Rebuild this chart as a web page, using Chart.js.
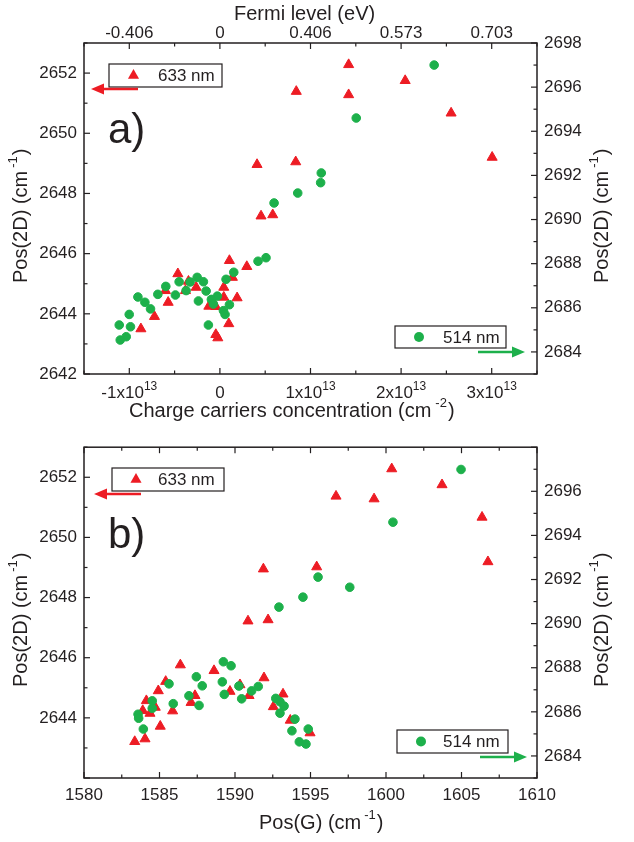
<!DOCTYPE html>
<html>
<head>
<meta charset="utf-8">
<script src="https://cdn.jsdelivr.net/npm/chart.js@4.4.1/dist/chart.umd.min.js"></script>
<style>
  body { margin: 0; background: #fff; }
  canvas { position: absolute; left: 0; }
  #chartA { top: 0; }
  #chartB { top: 430px; }
</style>
</head>
<body>
<canvas id="chartA" width="634" height="430"></canvas>
<canvas id="chartB" width="634" height="412"></canvas>
<script>
// panel a) - charge carriers concentration in units of 1x10^13 cm^-2
const carrier633 = [1.421, 2.045, 0.843, 1.421, 2.552, 3.005, 0.41, 0.837, 0.454, 0.583,
  0.105, 0.297, -0.464, -0.347, -0.262, 0.138, 0.043, -0.601, -0.38, -0.571,
  0.19, 0.043, -0.122, -0.045, -0.722, 0.098, -0.872, -0.045, -0.023];
const pos2D633a = [2652.28, 2651.75, 2651.39, 2651.28, 2650.67, 2649.2, 2648.96, 2649.05, 2647.25, 2647.29,
  2645.77, 2645.57, 2645.33, 2645.08, 2644.88, 2645.21, 2644.88, 2644.77, 2644.77, 2644.38,
  2644.53, 2644.55, 2644.25, 2644.24, 2643.91, 2643.67, 2643.5, 2643.31, 2643.2];
const carrier514 = [2.365, 1.505, 1.119, 1.112, 0.859, 0.598, 0.509, 0.421, 0.153, 0.068,
  -0.45, -0.597, -0.251, -0.182, -0.329, -0.373, -0.685, -0.491, -0.905, -0.828,
  -0.766, -0.152, -0.237, -0.028, -0.094, -0.072, 0.105, 0.039, 0.057, -1.001,
  -1.111, -0.987, -0.127, -1.034, -1.1];
const pos2D514a = [2697.0, 2694.6, 2692.11, 2691.67, 2691.2, 2690.75, 2688.27, 2688.11, 2687.61, 2687.29,
  2687.18, 2686.97, 2687.38, 2687.18, 2687.17, 2686.78, 2686.61, 2686.58, 2686.49, 2686.25,
  2685.95, 2686.76, 2686.31, 2686.53, 2686.38, 2686.17, 2686.14, 2685.87, 2685.7, 2685.7,
  2685.22, 2685.14, 2685.22, 2684.69, 2684.54];

// panel b) - Pos(G)
const posG633 = [1600.38, 1603.71, 1596.69, 1599.21, 1606.36, 1606.75, 1591.88, 1595.41, 1590.86, 1592.19,
  1586.38, 1588.61, 1591.92, 1585.41, 1590.33, 1593.18, 1584.92, 1589.67, 1587.35, 1590.93,
  1584.13, 1584.72, 1583.89, 1584.37, 1587.09, 1585.87, 1592.54, 1593.66, 1585.05, 1594.97,
  1584.04, 1583.36];
const pos2D633b = [2652.28, 2651.75, 2651.37, 2651.28, 2650.67, 2649.19, 2648.95, 2649.02, 2647.22, 2647.26,
  2645.76, 2645.57, 2645.33, 2645.21, 2645.1, 2644.79, 2644.9, 2644.88, 2644.74, 2644.74,
  2644.57, 2644.35, 2644.24, 2644.15, 2644.51, 2644.23, 2644.37, 2643.92, 2643.72, 2643.5,
  2643.3, 2643.21];
const posG514 = [1604.97, 1600.46, 1595.5, 1597.6, 1594.5, 1592.91, 1589.23, 1589.74, 1587.44, 1589.16,
  1585.63, 1587.83, 1590.26, 1591.54, 1591.1, 1589.29, 1586.95, 1590.44, 1584.52, 1592.7,
  1592.98, 1585.91, 1587.62, 1593.25, 1584.52, 1583.58, 1583.62, 1592.98, 1593.97, 1583.93,
  1593.77, 1594.85, 1594.26, 1594.7];
const pos2D514b = [2696.99, 2694.6, 2692.11, 2691.65, 2691.2, 2690.75, 2688.27, 2688.09, 2687.59, 2687.36,
  2687.27, 2687.18, 2687.17, 2687.15, 2686.95, 2686.79, 2686.73, 2686.59, 2686.5, 2686.61,
  2686.46, 2686.37, 2686.29, 2686.26, 2686.16, 2685.89, 2685.71, 2685.94, 2685.67, 2685.22,
  2685.14, 2685.22, 2684.64, 2684.54];

// tick labels
const carrierTicks = [-1, 0, 1, 2, 3];
const carrierMant = ['-1x10', '0', '1x10', '2x10', '3x10'];
const carrierExp = ['13', '', '13', '13', '13'];
const fermiLabels = ['-0.406', '0', '0.406', '0.573', '0.703'];
const posGTicks = [1580, 1585, 1590, 1595, 1600, 1605, 1610];
const leftTicksA = [2642, 2644, 2646, 2648, 2650, 2652];
const rightTicksA = [2684, 2686, 2688, 2690, 2692, 2694, 2696, 2698];
const leftTicksB = [2644, 2646, 2648, 2650, 2652];
const rightTicksB = [2684, 2686, 2688, 2690, 2692, 2694, 2696];

const RED = '#ed1c24';
const GREEN = '#1db04b';
const INK = '#231f20';
const FONT = '"Liberation Sans", Arial, sans-serif';

Chart.defaults.font.family = FONT;
Chart.defaults.color = INK;

const pts = (xs, ys) => xs.map((x, i) => ({ x: x, y: ys[i] }));

// inward major/minor ticks + frame box
const frame = {
  id: 'frame',
  afterDraw(chart) {
    const { ctx, chartArea: a } = chart;
    const spec = chart.config.options.tickSpec;
    ctx.save();
    ctx.strokeStyle = INK;
    ctx.lineWidth = 1.2;
    const line = (x1, y1, x2, y2) => { ctx.beginPath(); ctx.moveTo(x1, y1); ctx.lineTo(x2, y2); ctx.stroke(); };
    const walk = (scale, major, minor, fn) => {
      for (let v = Math.ceil(scale.min / minor - 1e-9) * minor; v <= scale.max + 1e-9; v += minor) {
        const isMajor = Math.abs(v / major - Math.round(v / major)) < 1e-6;
        fn(scale.getPixelForValue(v), isMajor ? 6 : 3.5);
      }
    };
    walk(chart.scales.x, spec.x[0], spec.x[1], (p, l) => { line(p, a.bottom, p, a.bottom - l); line(p, a.top, p, a.top + l); });
    walk(chart.scales.y, spec.y[0], spec.y[1], (p, l) => line(a.left, p, a.left + l, p));
    walk(chart.scales.y2, spec.y2[0], spec.y2[1], (p, l) => line(a.right, p, a.right - l, p));
    ctx.lineWidth = 1.5;
    ctx.strokeRect(a.left, a.top, a.right - a.left, a.bottom - a.top);
    ctx.restore();
  }
};

function drawTitle(ctx, parts, x, y, angle, centered) {
  ctx.save();
  ctx.translate(x, y);
  ctx.rotate(angle);
  ctx.textBaseline = 'middle';
  ctx.textAlign = 'left';
  ctx.fillStyle = INK;
  let total = 0;
  parts.forEach(p => {
    ctx.font = p.size + 'px ' + FONT;
    total += (p.gap || 0) + ctx.measureText(p.t).width;
  });
  let cx = centered ? -total / 2 : 0;
  parts.forEach(p => {
    ctx.font = p.size + 'px ' + FONT;
    cx += p.gap || 0;
    ctx.fillText(p.t, cx, p.dy || 0);
    cx += ctx.measureText(p.t).width;
  });
  ctx.restore();
}

function legendBox(ctx, b, label, shape, color) {
  ctx.save();
  ctx.strokeStyle = INK;
  ctx.lineWidth = 1.2;
  ctx.fillStyle = '#fff';
  ctx.fillRect(b.x, b.y, b.w, b.h);
  ctx.strokeRect(b.x, b.y, b.w, b.h);
  const cy = b.y + b.h / 2;
  ctx.fillStyle = color;
  ctx.beginPath();
  if (shape === 'triangle') {
    const r = 6.4;
    ctx.moveTo(b.mx, cy - r);
    ctx.lineTo(b.mx + r * 0.866, cy + r / 2);
    ctx.lineTo(b.mx - r * 0.866, cy + r / 2);
    ctx.closePath();
  } else {
    ctx.arc(b.mx, cy, 5, 0, Math.PI * 2);
  }
  ctx.fill();
  ctx.fillStyle = INK;
  ctx.font = '17px ' + FONT;
  ctx.textBaseline = 'middle';
  ctx.fillText(label, b.tx, cy + 1);
  ctx.restore();
}

function arrow(ctx, x1, x2, y, color) {
  const dir = Math.sign(x2 - x1);
  ctx.save();
  ctx.strokeStyle = color;
  ctx.fillStyle = color;
  ctx.lineWidth = 2.4;
  ctx.beginPath();
  ctx.moveTo(x1, y);
  ctx.lineTo(x2 - dir * 9, y);
  ctx.stroke();
  ctx.beginPath();
  ctx.moveTo(x2, y);
  ctx.lineTo(x2 - dir * 13, y - 5.5);
  ctx.lineTo(x2 - dir * 13, y + 5.5);
  ctx.closePath();
  ctx.fill();
  ctx.restore();
}

function makeNotes(n) {
  return {
    id: 'notes',
    afterDraw(chart) {
      const ctx = chart.ctx;
      ctx.save();
      ctx.fillStyle = INK;
      ctx.font = '42px ' + FONT;
      ctx.textBaseline = 'alphabetic';
      ctx.fillText(n.panel, n.panelX, n.panelY);
      ctx.restore();
      legendBox(ctx, n.box633, '633 nm', 'triangle', RED);
      arrow(ctx, n.arrow633[0], n.arrow633[1], n.arrow633[2], RED);
      legendBox(ctx, n.box514, '514 nm', 'circle', GREEN);
      arrow(ctx, n.arrow514[0], n.arrow514[1], n.arrow514[2], GREEN);
      const yParts = [{ t: 'Pos(2D) (cm', size: 20 }, { t: '-1', size: 13, dy: -8, gap: 3 }, { t: ')', size: 20, gap: 1 }];
      drawTitle(ctx, yParts, 21, n.yTitleStart, -Math.PI / 2);
      drawTitle(ctx, yParts, 602, n.yTitleStart, -Math.PI / 2);
      drawTitle(ctx, n.xTitle, n.xTitleX, n.xTitleY, 0);
      if (n.topTitle) drawTitle(ctx, n.topTitle, n.topTitleX, n.topTitleY, 0);
      if (n.expLabels) {
        // tick labels with a real superscript exponent
        const xs = chart.scales.x;
        carrierTicks.forEach((v, i) => {
          const parts = [{ t: carrierMant[i], size: 17 }];
          if (carrierExp[i]) parts.push({ t: carrierExp[i], size: 12, dy: -6 });
          drawTitle(ctx, parts, xs.getPixelForValue(v), n.expLabelY, 0, true);
        });
      }
    }
  };
}

function yAxis(pos, min, max, ticks, width) {
  return {
    type: 'linear', position: pos, min: min, max: max,
    afterBuildTicks: s => { s.ticks = ticks.map(v => ({ value: v })); },
    afterFit: s => { s.width = width; },
    ticks: { padding: 7, font: { size: 17 }, autoSkip: false, callback: v => String(v) },
    grid: { display: false, drawTicks: false },
    border: { display: false }
  };
}

function xAxis(pos, min, max, ticks, labels, height, pad) {
  return {
    type: 'linear', position: pos, min: min, max: max,
    afterBuildTicks: s => { s.ticks = ticks.map(v => ({ value: v })); },
    afterFit: s => { s.height = height; },
    ticks: {
      display: labels !== null,
      padding: pad, font: { size: 17 }, autoSkip: false, maxRotation: 0,
      callback: v => labels ? labels[ticks.indexOf(v)] : ''
    },
    grid: { display: false, drawTicks: false },
    border: { display: false }
  };
}

const baseOpts = {
  responsive: false,
  animation: false,
  plugins: { legend: { display: false }, tooltip: { enabled: false } },
};

new Chart(document.getElementById('chartA'), {
  type: 'scatter',
  data: {
    datasets: [
      {
        label: '514 nm', data: pts(carrier514, pos2D514a), yAxisID: 'y2', xAxisID: 'x',
        pointStyle: 'circle', pointRadius: 4.3, pointBorderWidth: 1,
        backgroundColor: GREEN, borderColor: GREEN
      },
      {
        label: '633 nm', data: pts(carrier633, pos2D633a), yAxisID: 'y', xAxisID: 'x',
        pointStyle: 'triangle', pointRadius: 5.8, pointBorderWidth: 1,
        backgroundColor: RED, borderColor: RED
      }
    ]
  },
  options: Object.assign({}, baseOpts, {
    tickSpec: { x: [1, 0.5], y: [2, 1], y2: [2, 1] },
    layout: { padding: 0 },
    scales: {
      x: xAxis('bottom', -1.5, 3.5, carrierTicks, null, 56, 8),
      x2: xAxis('top', -1.5, 3.5, carrierTicks, fermiLabels, 43, -1),
      y: yAxis('left', 2642, 2653, leftTicksA, 84),
      y2: yAxis('right', 2683, 2698, rightTicksA, 97)
    }
  }),
  plugins: [frame, makeNotes({
    panel: 'a)', panelX: 108, panelY: 143,
    box633: { x: 109, y: 64, w: 113, h: 23, mx: 133.5, tx: 158 },
    arrow633: [138, 91, 89],
    box514: { x: 395, y: 326, w: 111, h: 22, mx: 419, tx: 443 },
    arrow514: [478, 525, 352],
    yTitleStart: 283,
    xTitle: [{ t: 'Charge carriers concentration (cm', size: 20 }, { t: '-2', size: 13, dy: -8, gap: 4 }, { t: ')', size: 20, gap: 1 }],
    xTitleX: 129, xTitleY: 411,
    topTitle: [{ t: 'Fermi level (eV)', size: 20 }],
    topTitleX: 234, topTitleY: 14,
    expLabels: true, expLabelY: 393
  })]
});

new Chart(document.getElementById('chartB'), {
  type: 'scatter',
  data: {
    datasets: [
      {
        label: '514 nm', data: pts(posG514, pos2D514b), yAxisID: 'y2', xAxisID: 'x',
        pointStyle: 'circle', pointRadius: 4.3, pointBorderWidth: 1,
        backgroundColor: GREEN, borderColor: GREEN
      },
      {
        label: '633 nm', data: pts(posG633, pos2D633b), yAxisID: 'y', xAxisID: 'x',
        pointStyle: 'triangle', pointRadius: 5.8, pointBorderWidth: 1,
        backgroundColor: RED, borderColor: RED
      }
    ]
  },
  options: Object.assign({}, baseOpts, {
    tickSpec: { x: [5, 2.5], y: [2, 1], y2: [2, 1] },
    layout: { padding: { top: 17 } },
    scales: {
      x: xAxis('bottom', 1580, 1610, posGTicks, posGTicks.map(String), 64, 7),
      y: yAxis('left', 2642, 2653, leftTicksB, 84),
      y2: yAxis('right', 2683, 2698, rightTicksB, 97)
    }
  }),
  plugins: [frame, makeNotes({
    panel: 'b)', panelX: 108, panelY: 118,
    box633: { x: 112, y: 38, w: 112, h: 23, mx: 136, tx: 158 },
    arrow633: [141, 94, 64],
    box514: { x: 397, y: 300, w: 111, h: 23, mx: 421, tx: 443 },
    arrow514: [480, 527, 327],
    yTitleStart: 257,
    xTitle: [{ t: 'Pos(G) (cm', size: 20 }, { t: '-1', size: 13, dy: -8, gap: 3 }, { t: ')', size: 20, gap: 1 }],
    xTitleX: 259, xTitleY: 393
  })]
});
</script>
</body>
</html>
